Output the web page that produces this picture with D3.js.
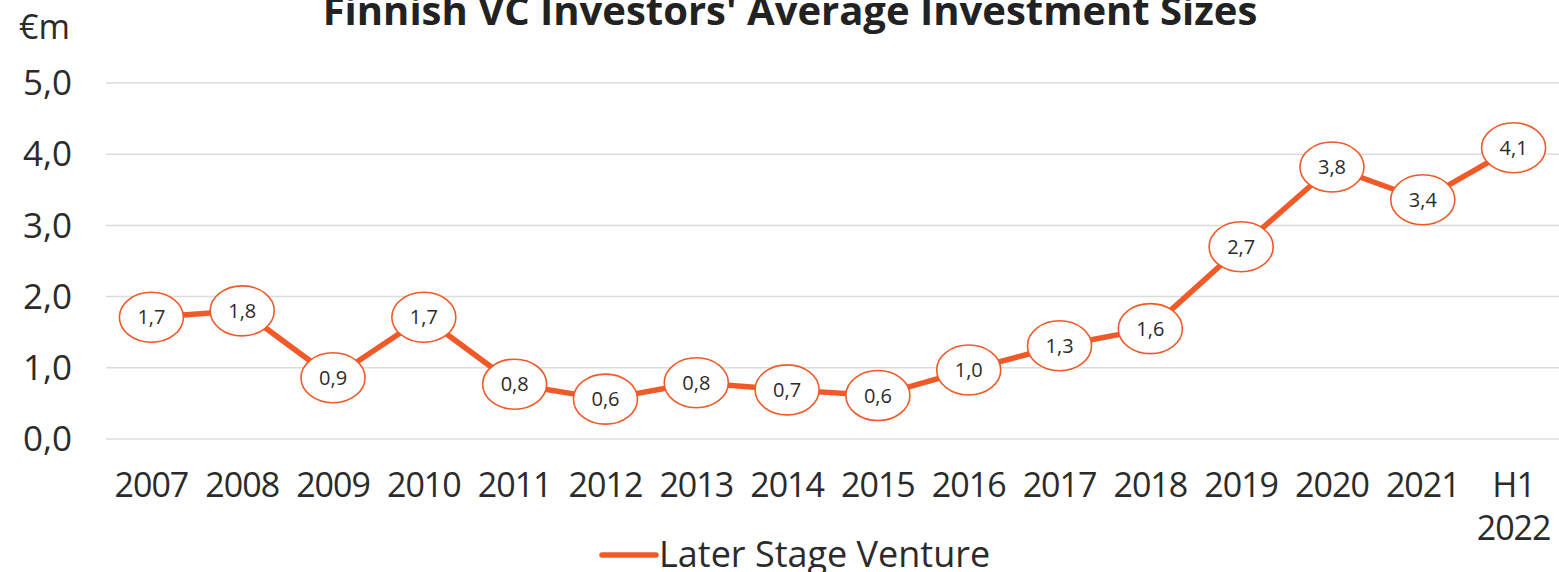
<!DOCTYPE html>
<html>
<head>
<meta charset="utf-8">
<script src="https://cdn.jsdelivr.net/npm/d3@7"></script>
<style>
  body { margin: 0; background: #fff; }
  svg { display: block; font-family: "Open Sans", sans-serif; }
</style>
</head>
<body>
<script>
(function() {

    const width = 1559;
    const height = 572;

    // chart data
    const categories = ["2007", "2008", "2009", "2010", "2011", "2012", "2013", "2014",
        "2015", "2016", "2017", "2018", "2019", "2020", "2021", "H1 2022"];
    const laterStage = [1.71, 1.80, 0.86, 1.71, 0.77, 0.56, 0.79, 0.69,
        0.61, 0.97, 1.31, 1.55, 2.70, 3.82, 3.36, 4.09];
    const yTicks = [0, 1, 2, 3, 4, 5];
    const seriesName = "Later Stage Venture";
    const titleText = "Finnish VC Investors' Average Investment Sizes";
    const unitText = "€m";

    const orange = "#f05a28";
    const textColor = "#2b2b2b";

    const margin = {left: 106, right: 0, top: 83, bottom: 133};

    let svg = d3.select("body").append("svg")
        .attr("width", width)
        .attr("height", height);

    let x = d3.scaleBand()
        .domain(categories)
        .range([margin.left, width - margin.right]);

    let y = d3.scaleLinear()
        .domain([0, 5])
        .range([height - margin.bottom, margin.top]);

    let fmt = function(v) { return d3.format(".1f")(v).replace(".", ","); };

    // gridlines
    svg.append("g")
        .selectAll("line")
        .data(yTicks)
        .enter()
        .append("line")
        .attr("x1", margin.left)
        .attr("x2", width - margin.right)
        .attr("y1", d => y(d))
        .attr("y2", d => y(d))
        .style("stroke", "#dcdcdc")
        .style("stroke-width", 1.5);

    // y tick labels
    svg.append("g")
        .selectAll("text")
        .data(yTicks)
        .enter()
        .append("text")
        .attr("x", 72)
        .attr("y", d => y(d))
        .attr("dy", "0.35em")
        .attr("text-anchor", "end")
        .style("font-size", "35px")
        .style("fill", textColor)
        .text(d => fmt(d));

    // unit label
    svg.append("text")
        .attr("x", 19)
        .attr("y", 39)
        .style("font-size", "34px")
        .style("fill", textColor)
        .text(unitText);

    // title (top is clipped in the original)
    svg.append("text")
        .attr("x", 790)
        .attr("y", 25)
        .attr("text-anchor", "middle")
        .style("font-size", "40px")
        .style("font-weight", "bold")
        .style("fill", "#222")
        .text(titleText);

    // x labels, wrap on space
    let xl = svg.append("g")
        .selectAll("text")
        .data(categories)
        .enter()
        .append("text")
        .attr("text-anchor", "middle")
        .attr("y", 497)
        .style("font-size", "34px")
        .style("letter-spacing", "-1px")
        .style("fill", textColor);
    xl.each(function(d) {
        let parts = d.split(" ");
        let t = d3.select(this);
        parts.forEach((p, i) => {
            t.append("tspan")
                .attr("x", x(d) + x.bandwidth() / 2)
                .attr("dy", i === 0 ? 0 : 43)
                .text(p);
        });
    });

    // line
    let line = d3.line()
        .x((d, i) => x(categories[i]) + x.bandwidth() / 2)
        .y(d => y(d));

    svg.append("path")
        .datum(laterStage)
        .attr("d", line)
        .style("fill", "none")
        .style("stroke", orange)
        .style("stroke-width", 5.5)
        .style("stroke-linejoin", "round");

    // data labels in ellipses, sized to the text
    let lbl = svg.append("g")
        .selectAll("g")
        .data(laterStage)
        .enter()
        .append("g")
        .attr("transform", (d, i) => "translate(" + (x(categories[i]) + x.bandwidth() / 2) + "," + y(d) + ")");

    let ell = lbl.append("ellipse")
        .attr("ry", 25)
        .style("fill", "#fff")
        .style("stroke", orange)
        .style("stroke-width", 1.6);

    lbl.append("text")
        .attr("text-anchor", "middle")
        .attr("dy", "0.35em")
        .style("font-size", "20px")
        .style("fill", textColor)
        .text(d => fmt(d));

    lbl.each(function() {
        let g = d3.select(this);
        let w = g.select("text").node().getComputedTextLength();
        g.select("ellipse").attr("rx", w / 2 + 18);
    });

    // legend
    svg.append("line")
        .attr("x1", 602)
        .attr("x2", 656)
        .attr("y1", 555)
        .attr("y2", 555)
        .style("stroke", orange)
        .style("stroke-width", 5.5)
        .style("stroke-linecap", "round");

    svg.append("text")
        .attr("x", 659)
        .attr("y", 567)
        .style("font-size", "36px")
        .style("fill", textColor)
        .text(seriesName);

})();
</script>
</body>
</html>
